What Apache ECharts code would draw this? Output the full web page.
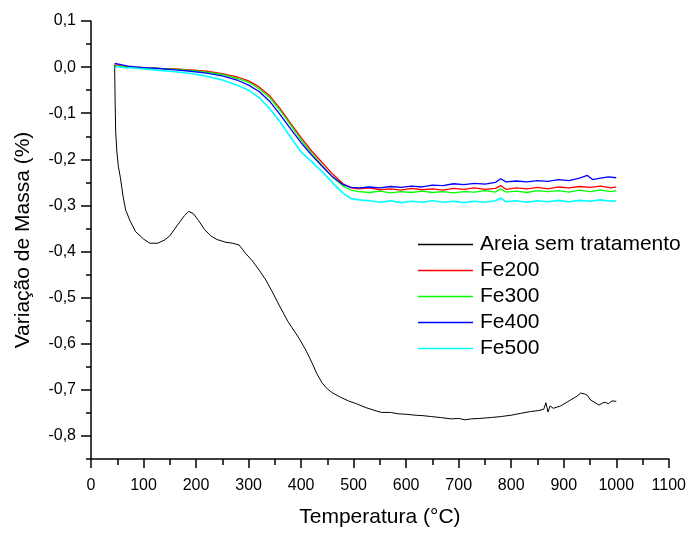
<!DOCTYPE html>
<html>
<head>
<meta charset="utf-8">
<script src="https://cdn.jsdelivr.net/npm/echarts@6/dist/echarts.min.js"></script>
<style>
  html, body { margin: 0; padding: 0; background: #fff; }
  #chart { width: 689px; height: 533px; }
</style>
</head>
<body>
<div id="chart"></div>
<script>
// valores: [temperatura (°C), variação de massa (%)]
var areia = [[45,0.005],[46,-0.08],[47,-0.14],[49,-0.18],[52,-0.215],[56,-0.24],[61,-0.28],[66,-0.31],[75,-0.335],[85,-0.357],[100,-0.373],[112,-0.382],[127,-0.382],[140,-0.375],[150,-0.366],[165,-0.342],[178,-0.322],[186,-0.313],[195,-0.318],[205,-0.333],[216,-0.352],[228,-0.366],[240,-0.374],[257,-0.38],[270,-0.382],[282,-0.386],[295,-0.405],[307,-0.42],[320,-0.44],[333,-0.462],[345,-0.487],[358,-0.516],[375,-0.552],[396,-0.588],[410,-0.616],[421,-0.642],[430,-0.665],[440,-0.685],[450,-0.698],[459,-0.706],[475,-0.716],[490,-0.724],[505,-0.73],[522,-0.738],[538,-0.744],[553,-0.749],[570,-0.749],[585,-0.752],[600,-0.753],[617,-0.755],[632,-0.756],[648,-0.758],[665,-0.76],[686,-0.763],[700,-0.762],[712,-0.765],[724,-0.763],[740,-0.762],[762,-0.76],[780,-0.758],[800,-0.755],[818,-0.751],[837,-0.747],[852,-0.745],[862,-0.742],[866,-0.728],[870,-0.748],[874,-0.735],[880,-0.74],[894,-0.735],[913,-0.722],[925,-0.714],[932,-0.707],[940,-0.709],[945,-0.712],[951,-0.722],[960,-0.728],[967,-0.733],[975,-0.728],[979,-0.727],[985,-0.73],[992,-0.724],[1000,-0.725]];

var fe200 = [[45,0.004],[50,0.005],[60,0.002],[80,0],[100,-0.001],[130,-0.003],[160,-0.004],[190,-0.006],[220,-0.009],[250,-0.014],[280,-0.022],[300,-0.03],[320,-0.043],[340,-0.062],[360,-0.09],[380,-0.122],[400,-0.153],[420,-0.182],[440,-0.207],[460,-0.232],[480,-0.253],[495,-0.262],[510,-0.264],[530,-0.262],[550,-0.266],[570,-0.264],[590,-0.267],[610,-0.263],[630,-0.266],[650,-0.264],[670,-0.267],[690,-0.263],[710,-0.265],[730,-0.262],[750,-0.265],[770,-0.263],[780,-0.257],[790,-0.265],[810,-0.262],[830,-0.264],[850,-0.261],[870,-0.264],[890,-0.26],[910,-0.262],[930,-0.259],[950,-0.261],[970,-0.258],[990,-0.262],[1000,-0.26]];

var fe300 = [[45,0.002],[60,0.001],[80,-0.001],[100,-0.002],[130,-0.003],[160,-0.005],[190,-0.007],[220,-0.011],[250,-0.016],[280,-0.025],[300,-0.033],[320,-0.047],[340,-0.066],[360,-0.094],[380,-0.126],[400,-0.158],[420,-0.187],[440,-0.213],[460,-0.239],[480,-0.258],[495,-0.267],[510,-0.27],[530,-0.272],[550,-0.269],[570,-0.273],[590,-0.27],[610,-0.272],[630,-0.269],[650,-0.272],[670,-0.27],[690,-0.273],[710,-0.27],[730,-0.271],[750,-0.268],[770,-0.271],[780,-0.264],[790,-0.271],[810,-0.269],[830,-0.272],[850,-0.268],[870,-0.27],[890,-0.268],[910,-0.271],[930,-0.267],[950,-0.27],[970,-0.267],[990,-0.27],[1000,-0.268]];

var fe400 = [[45,0.008],[48,0.009],[55,0.006],[70,0.002],[100,-0.001],[130,-0.003],[160,-0.006],[190,-0.009],[220,-0.013],[250,-0.019],[280,-0.029],[300,-0.039],[320,-0.053],[340,-0.074],[360,-0.103],[380,-0.134],[400,-0.164],[420,-0.191],[440,-0.215],[460,-0.238],[480,-0.255],[495,-0.261],[510,-0.262],[530,-0.26],[550,-0.262],[570,-0.259],[590,-0.261],[610,-0.258],[630,-0.26],[650,-0.256],[670,-0.257],[690,-0.253],[710,-0.255],[730,-0.252],[750,-0.254],[770,-0.25],[780,-0.242],[790,-0.249],[810,-0.247],[830,-0.249],[850,-0.246],[870,-0.248],[890,-0.244],[910,-0.246],[930,-0.241],[945,-0.235],[955,-0.244],[970,-0.241],[985,-0.238],[1000,-0.24]];

var fe500 = [[45,-0.003],[50,0.002],[60,-0.001],[80,-0.002],[100,-0.004],[130,-0.007],[160,-0.01],[190,-0.014],[220,-0.02],[250,-0.028],[280,-0.04],[300,-0.05],[320,-0.066],[340,-0.09],[360,-0.119],[380,-0.152],[400,-0.184],[420,-0.205],[440,-0.227],[460,-0.251],[480,-0.274],[495,-0.285],[510,-0.288],[530,-0.29],[550,-0.293],[570,-0.29],[590,-0.294],[610,-0.291],[630,-0.293],[650,-0.29],[670,-0.293],[690,-0.291],[710,-0.294],[730,-0.291],[750,-0.293],[770,-0.29],[780,-0.284],[790,-0.292],[810,-0.29],[830,-0.293],[850,-0.29],[870,-0.292],[890,-0.289],[910,-0.292],[930,-0.289],[950,-0.291],[970,-0.288],[990,-0.291],[1000,-0.29]];

var nomes = ['Areia sem tratamento', 'Fe200', 'Fe300', 'Fe400', 'Fe500'];
var cores = ['#000000', '#ff0000', '#00ff00', '#0000ff', '#00ffff'];
var largura = [1, 1.3, 1.3, 1.3, 1.6];
var dados = [areia, fe200, fe300, fe400, fe500];

var yMajor = [-0.8, -0.7, -0.6, -0.5, -0.4, -0.3, -0.2, -0.1, 0, 0.1];
var yMinor = [-0.85, -0.75, -0.65, -0.55, -0.45, -0.35, -0.25, -0.15, -0.05, 0.05];

var chart = echarts.init(document.getElementById('chart'));
var fonte = 'Liberation Sans, Arial, sans-serif';
var linhaEixo = { show: true, onZero: false, lineStyle: { color: '#000', width: 1.5 } };

var series = dados.map(function (d, i) {
  return {
    name: nomes[i],
    type: 'line',
    data: d,
    showSymbol: false,
    symbol: 'none',
    color: cores[i],
    lineStyle: { color: cores[i], width: largura[i] },
    z: i === 0 ? 2 : 3
  };
});

chart.setOption({
  animation: false,
  backgroundColor: '#fff',
  grid: { left: 91, right: 17, top: 21, bottom: 70 },
  legend: {
    orient: 'vertical',
    left: 418,
    top: 234,
    padding: 0,
    icon: 'rect',
    itemWidth: 55,
    itemHeight: 1.5,
    itemGap: 5,
    data: nomes,
    textStyle: { fontFamily: fonte, fontSize: 21, color: '#000', lineHeight: 21, padding: [0, 0, 0, 2] }
  },
  xAxis: {
    type: 'value',
    min: 0,
    max: 1100,
    interval: 100,
    name: 'Temperatura (°C)',
    nameLocation: 'middle',
    nameGap: 48,
    nameTextStyle: { fontFamily: fonte, fontSize: 21, color: '#000' },
    axisLine: linhaEixo,
    axisTick: { show: true, length: 9, lineStyle: { color: '#000', width: 1.5 } },
    minorTick: { show: true, splitNumber: 2, length: 6, lineStyle: { color: '#000', width: 1.5 } },
    axisLabel: {
      fontFamily: fonte, fontSize: 16, color: '#000', margin: 19,
      formatter: function (v) { return String(v); }
    },
    splitLine: { show: false }
  },
  yAxis: [{
    type: 'value',
    min: -0.85,
    max: 0.1,
    name: 'Variação de Massa (%)',
    nameLocation: 'middle',
    nameGap: 57,
    nameTextStyle: { fontFamily: fonte, fontSize: 21, color: '#000' },
    axisLine: linhaEixo,
    axisTick: { show: true, length: 10, customValues: yMajor, lineStyle: { color: '#000', width: 1.5 } },
    axisLabel: {
      customValues: yMajor,
      fontFamily: fonte, fontSize: 16, color: '#000', margin: 15,
      formatter: function (v) { return v.toFixed(1).replace('.', ','); }
    },
    splitLine: { show: false }
  }, {
    type: 'value',
    position: 'left',
    min: -0.85,
    max: 0.1,
    axisLine: { show: false },
    axisTick: { show: true, length: 5, customValues: yMinor, lineStyle: { color: '#000', width: 1.5 } },
    axisLabel: { show: false },
    splitLine: { show: false }
  }],
  series: series
});

window.addEventListener('resize', function () {
  chart.resize();
});
</script>
</body>
</html>
